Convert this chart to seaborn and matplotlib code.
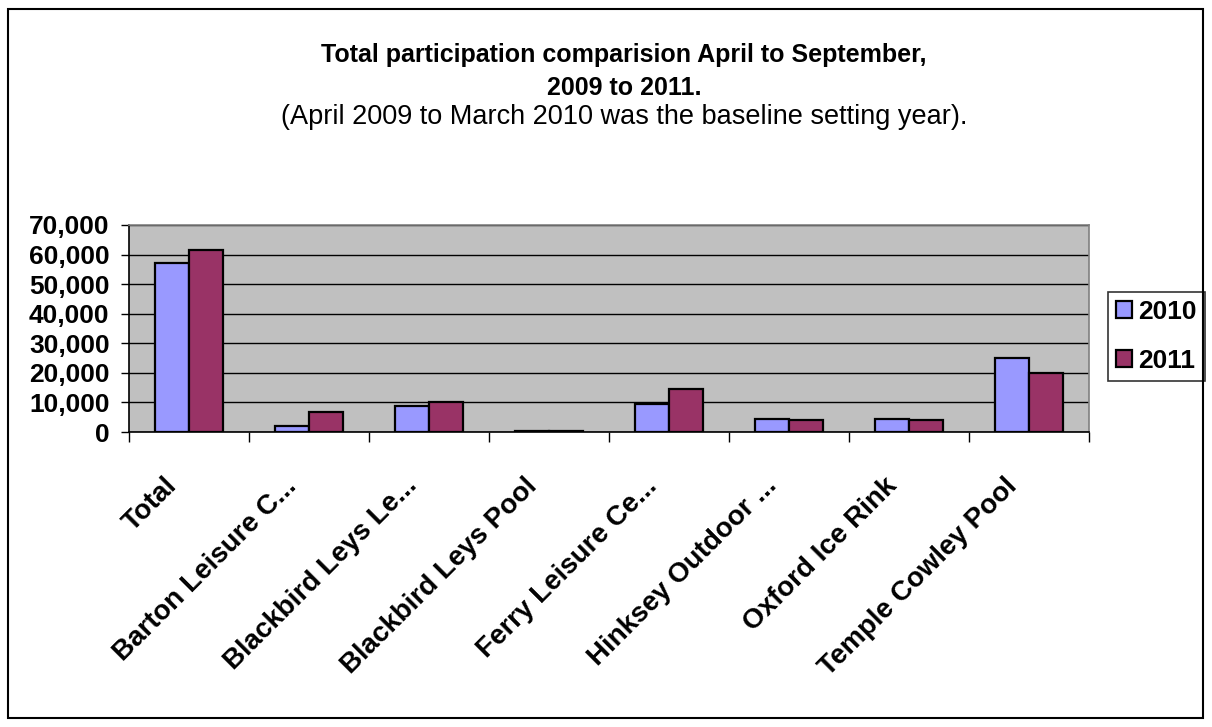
import numpy as np
import pandas as pd
import seaborn as sns
import matplotlib
matplotlib.use("Agg")
import matplotlib.pyplot as plt
from matplotlib.patches import Rectangle
from matplotlib.ticker import FuncFormatter, FixedLocator
from matplotlib.transforms import ScaledTranslation

sites = ["Total", "Barton Leisure C...", "Blackbird Leys Le...", "Blackbird Leys Pool",
         "Ferry Leisure Ce...", "Hinksey Outdoor ...", "Oxford Ice Rink", "Temple Cowley Pool"]
y2010 = [57300, 1900, 8900, 500, 9600, 4500, 4500, 24900]
y2011 = [61400, 6900, 10200, 500, 14400, 3950, 3950, 20000]
years = ["2010", "2011"]

df = pd.DataFrame({
    "Site": sites * 2,
    "Year": [years[0]] * len(sites) + [years[1]] * len(sites),
    "Participation": y2010 + y2011,
})

sns.set_theme(style="ticks")
plt.rcParams["font.family"] = ["Liberation Sans", "DejaVu Sans"]
plt.rcParams["text.color"] = "black"
plt.rcParams["xtick.color"] = "black"
plt.rcParams["ytick.color"] = "black"

fig = plt.figure(figsize=(12.12, 7.27), dpi=100)
ax = fig.add_axes([129/1212, 1-432/727, 960/1212, 207/727])
ax.set_facecolor("#C0C0C0")

sns.barplot(data=df, x="Site", y="Participation", hue="Year", order=sites,
            palette={"2010": "#9999FF", "2011": "#993366"}, saturation=1,
            width=0.567, gap=0, edgecolor="black", linewidth=1.6, ax=ax, zorder=3)

ax.set_ylim(0, 70000)
ax.set_xlim(-0.5, len(sites) - 0.5)
ax.set_yticks(np.arange(0, 70001, 10000))
ax.yaxis.set_major_formatter(FuncFormatter(lambda v, p: f"{v:,.0f}"))
ax.yaxis.grid(True, color="black", lw=1)
ax.set_axisbelow(True)
ax.tick_params(axis="y", direction="out", length=6, width=1, labelsize=19, pad=8)
for lab in ax.get_yticklabels():
    lab.set_fontweight("bold")

ax.xaxis.set_minor_locator(FixedLocator(np.arange(-0.5, len(sites), 1)))
ax.tick_params(axis="x", which="major", length=0, pad=36)
ax.tick_params(axis="x", which="minor", direction="out", length=7, width=1)
ax.set_xticks(range(len(sites)))
ax.set_xticklabels(sites, rotation=45, ha="right", va="center",
                   rotation_mode="anchor", fontsize=20, fontweight="bold")
shift = ScaledTranslation(-16/100, 0, fig.dpi_scale_trans)
for lab in ax.get_xticklabels():
    lab.set_transform(lab.get_transform() + shift)
ax.set_xlabel("")
ax.set_ylabel("")

for s in ["left", "bottom"]:
    ax.spines[s].set_color("black")
    ax.spines[s].set_linewidth(1.2)
for s in ["top", "right"]:
    ax.spines[s].set_color("#808080")
    ax.spines[s].set_linewidth(1.2)

ax.legend(loc="upper left", bbox_to_anchor=(1108/1212, 1-292/727),
          bbox_transform=fig.transFigure, frameon=True, fancybox=False,
          edgecolor="black", prop={"weight": "bold", "size": 19},
          handlelength=0.6, handleheight=0.6, handletextpad=0.25,
          labelspacing=0.95, borderpad=0.3, borderaxespad=0)
ax.get_legend().get_frame().set_linewidth(1.2)

fig.text(624/1212, 1-55/727, "Total participation comparision April to September,",
         ha="center", va="center", fontsize=18, fontweight="bold")
fig.text(624/1212, 1-88/727, "2009 to 2011.",
         ha="center", va="center", fontsize=18, fontweight="bold")
fig.text(624/1212, 1-117/727, "(April 2009 to March 2010 was the baseline setting year).",
         ha="center", va="center", fontsize=19.5)

fig.patches.append(Rectangle((8/1212, 9/727), 1195/1212, 709/727, transform=fig.transFigure,
                             fill=False, edgecolor="black", lw=1.5))

fig.savefig("out.png", dpi=100)
